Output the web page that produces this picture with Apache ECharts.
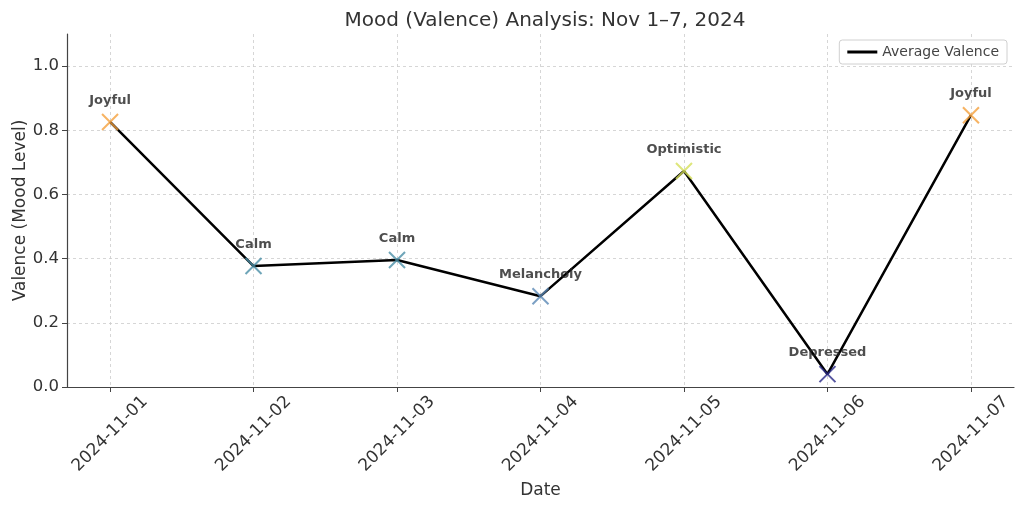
<!DOCTYPE html>
<html>
<head>
<meta charset="utf-8">
<script src="https://cdn.jsdelivr.net/npm/echarts@6/dist/echarts.min.js"></script>
<style>
html,body{margin:0;padding:0;background:#fff;}
#chart{width:1024px;height:509px;}
</style>
</head>
<body>
<div id="chart"></div>
<script>
const dates = ['2024-11-01','2024-11-02','2024-11-03','2024-11-04','2024-11-05','2024-11-06','2024-11-07'];
const valence = [0.826, 0.377, 0.396, 0.283, 0.673, 0.040, 0.847];
const moods = ['Joyful','Calm','Calm','Melancholy','Optimistic','Depressed','Joyful'];
const moodColors = {
  'Joyful': '#f5a03c',
  'Calm': '#4a8fa6',
  'Melancholy': '#5a88b5',
  'Optimistic': '#d6e05a',
  'Depressed': '#2a2a88'
};
const yTicks = [0, 0.2, 0.4, 0.6, 0.8, 1.0];

const idx = dates.map((d, i) => i);
const lineData = valence.map((v, i) => [i, v]);
const scatterData = valence.map((v, i) => ({
  value: [i, v],
  name: moods[i],
  itemStyle: { borderColor: moodColors[moods[i]] }
}));

const textColor = '#333333';
const font = 'DejaVu Sans';
const chart = echarts.init(document.getElementById('chart'), null, { renderer: 'canvas' });
chart.setOption({
  animation: false,
  backgroundColor: '#fff',
  textStyle: { fontFamily: font },
  title: {
    text: 'Mood (Valence) Analysis: Nov 1–7, 2024',
    left: 540,
    textAlign: 'center',
    top: 6,
    textStyle: { fontFamily: font, fontSize: 20, fontWeight: 'normal', color: textColor }
  },
  legend: {
    right: 17,
    top: 40,
    data: [{ name: 'Average Valence', icon: 'rect' }],
    itemWidth: 30,
    itemHeight: 3,
    itemGap: 8,
    padding: [5, 8, 5, 8],
    borderColor: '#d0d0d0',
    borderWidth: 1,
    borderRadius: 3,
    backgroundColor: '#fff',
    textStyle: { fontFamily: font, fontSize: 14, color: '#444' }
  },
  grid: { left: 67, right: 10, top: 34, bottom: 122, containLabel: false, outerBoundsMode: 'none' },
  xAxis: {
    type: 'value',
    min: -0.3,
    max: 6.3,
    name: 'Date',
    nameLocation: 'middle',
    nameGap: 95,
    nameMoveOverlap: false,
    nameTextStyle: { fontFamily: font, fontSize: 17, color: textColor },
    axisLine: { show: true, onZero: false, lineStyle: { color: '#444', width: 1.2 } },
    axisTick: { show: true, customValues: idx, length: 5, lineStyle: { color: '#444' } },
    axisLabel: {
      customValues: idx,
      rotate: 45,
      align: 'center',
      verticalAlign: 'middle',
      fontFamily: font,
      fontSize: 17,
      color: textColor,
      margin: 47,
      formatter: v => dates[Math.round(v)]
    },
    splitLine: { show: true, lineStyle: { color: '#cccccc', type: [3, 3], width: 0.8 } }
  },
  yAxis: {
    type: 'value',
    min: 0,
    max: 1.1,
    name: 'Valence (Mood Level)',
    nameLocation: 'middle',
    nameGap: 38,
    nameMoveOverlap: false,
    nameTextStyle: { fontFamily: font, fontSize: 17, color: textColor },
    axisLine: { show: true, onZero: false, lineStyle: { color: '#444', width: 1.2 } },
    axisTick: { show: true, customValues: yTicks, length: 5, lineStyle: { color: '#444' } },
    axisLabel: {
      customValues: yTicks,
      fontFamily: font,
      fontSize: 16.5,
      color: textColor,
      margin: 8,
      formatter: v => v.toFixed(1)
    },
    splitLine: { show: true, lineStyle: { color: '#cccccc', type: [3, 3], width: 0.8 } }
  },
  series: [
    {
      name: 'Average Valence',
      type: 'line',
      data: lineData,
      symbol: 'none',
      lineStyle: { color: '#000', width: 2.5 },
      itemStyle: { color: '#000' },
      z: 2
    },
    {
      name: 'Mood',
      type: 'scatter',
      data: scatterData,
      symbol: 'path://M0,0L10,10M10,0L0,10',
      symbolSize: 16,
      itemStyle: { color: 'rgba(0,0,0,0)', borderWidth: 2 },
      label: {
        show: true,
        position: 'top',
        distance: 6,
        formatter: p => p.name,
        fontFamily: font,
        fontSize: 13,
        fontWeight: 'bold',
        color: '#222'
      },
      z: 3
    }
  ]
});
</script>
</body>
</html>
